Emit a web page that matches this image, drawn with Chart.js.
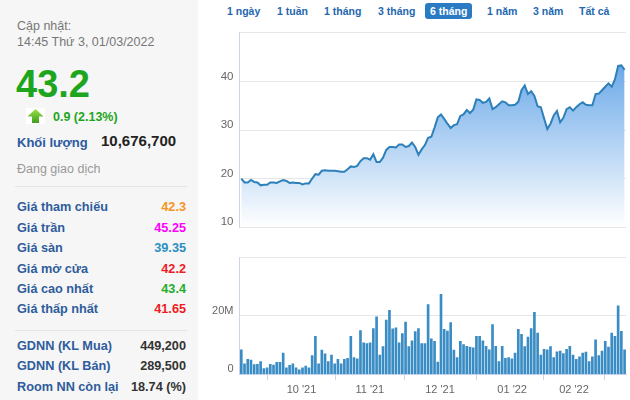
<!DOCTYPE html>
<html>
<head>
<meta charset="utf-8">
<script src="https://cdn.jsdelivr.net/npm/chart.js@4/dist/chart.umd.min.js"></script>
<style>
  body { margin: 0; width: 630px; height: 400px; position: relative; overflow: hidden; background: #fff; font-family: "Liberation Sans", Arial, sans-serif; }
  #painel { position: absolute; left: 0; top: 0; width: 198px; height: 400px; background: #f6f6f6; }
  .t { position: absolute; white-space: nowrap; height: 16px; line-height: 16px; }
  .lbl { left: 17px; font-size: 12.7px; font-weight: bold; color: #2f5c9c; }
  .val { right: 12px; font-size: 12.7px; font-weight: bold; text-align: right; }
  .sep { position: absolute; left: 15px; width: 172px; height: 1px; background: #e4e4e4; }
  .aba { position: absolute; top: 3px; height: 16px; line-height: 16px; font-size: 10.5px; font-weight: bold; color: #2467b0; white-space: nowrap; }
  .ativa { background: #2b7bc4; color: #fff; border-radius: 3px; padding: 0 5px; }
  canvas { position: absolute; }
</style>
</head>
<body>
<div id="painel">
  <div class="t" style="left:17px;top:18px;font-size:12.5px;color:#777;">Cập nhật:</div>
  <div class="t" style="left:17px;top:33.5px;font-size:12.5px;color:#777;">14:45 Thứ 3, 01/03/2022</div>
  <div class="t" style="left:16px;top:63.8px;height:40px;line-height:40px;font-size:38px;font-weight:bold;color:#1ea51e;">43.2</div>
  <svg style="position:absolute;left:26px;top:108px;" width="19" height="16">
    <defs><linearGradient id="ga" x1="0" y1="0" x2="0" y2="1"><stop offset="0" stop-color="#9be04a"/><stop offset="1" stop-color="#3f9e1c"/></linearGradient></defs>
    <rect width="19" height="16" fill="#fff"/>
    <polygon points="1.5,8.5 9.5,1 17.5,8.5 13,8.5 13,15 6,15 6,8.5" fill="url(#ga)"/>
  </svg>
  <div class="t" style="left:53px;top:109px;font-size:12.5px;font-weight:bold;color:#1ea51e;">0.9 (2.13%)</div>
  <div class="t" style="left:17px;top:135px;font-size:13px;font-weight:bold;color:#2c5aa0;">Khối lượng</div>
  <div class="t" style="left:101px;top:133px;font-size:15px;font-weight:bold;color:#222;">10,676,700</div>
  <div class="t" style="left:17px;top:161px;font-size:12.5px;color:#999;">Đang giao dịch</div>
  <div class="sep" style="top:186px;"></div>
  <div id="linhas"></div>
  <div class="sep" style="top:330px;"></div>
</div>

<div class="aba" style="left:227px;">1 ngày</div>
<div class="aba" style="left:277px;">1 tuần</div>
<div class="aba" style="left:324px;">1 tháng</div>
<div class="aba" style="left:378px;">3 tháng</div>
<div class="aba ativa" style="left:425px;">6 tháng</div>
<div class="aba" style="left:487px;">1 năm</div>
<div class="aba" style="left:533px;">3 năm</div>
<div class="aba" style="left:579px;">Tất cả</div>

<canvas id="graficoPreco" style="left:200px;top:20px;" width="430" height="220"></canvas>
<canvas id="graficoVolume" style="left:200px;top:245px;" width="430" height="155"></canvas>

<script>
// preço de fechamento por sessão (mil VND)
const precos = [
  20.0, 19.2, 19.2, 19.7, 19.3, 19.2, 18.6, 18.7, 18.7, 19.2,
  19.2, 19.1, 19.4, 19.7, 19.5, 19.1, 19.2, 19.1, 19.1, 18.8,
  19.0, 19.0, 20.0, 20.9, 20.8, 21.6, 21.7, 21.6, 21.6, 21.6,
  21.5, 21.4, 21.4, 21.9, 22.5, 22.4, 22.6, 23.6, 24.2, 24.2,
  23.9, 25.0, 23.4, 23.4, 24.3, 25.9, 26.5, 26.5, 26.4, 27.0,
  27.0, 26.5, 26.7, 27.4, 26.5, 24.9, 26.0, 26.9, 28.4, 28.6,
  30.5, 32.6, 33.2, 32.3, 31.3, 30.4, 31.0, 31.2, 32.9, 33.2,
  34.1, 33.5, 34.2, 36.3, 36.2, 35.6, 35.8, 36.5, 34.3, 34.7,
  35.3, 35.9, 35.7, 35.1, 35.1, 35.2, 35.8, 38.2, 39.2, 37.4,
  38.0, 37.0, 34.9, 34.7, 32.4, 30.2, 31.3, 33.0, 33.9, 31.6,
  32.5, 34.3, 34.7, 34.0, 34.7, 35.3, 35.7, 35.2, 35.1, 35.1,
  37.4, 37.5, 38.2, 38.9, 39.6, 38.9, 40.4, 43.2, 43.3, 42.4
];

// volume por sessão (milhões)
const volumes = [
  8.4, 3.6, 5.1, 4.9, 3.3, 3.4, 4.4, 2.0, 2.2, 3.4,
  3.2, 4.1, 4.1, 7.3, 2.2, 3.1, 3.6, 2.2, 1.5, 2.2,
  2.8, 2.2, 6.4, 13.0, 3.6, 8.3, 7.0, 4.4, 6.6, 3.6,
  5.1, 3.6, 5.1, 5.5, 13.0, 5.7, 5.3, 15.0, 10.8, 10.5,
  10.8, 15.7, 19.7, 6.6, 9.5, 18.6, 21.9, 15.6, 15.9, 10.8,
  14.0, 17.9, 9.5, 11.5, 14.6, 15.7, 10.5, 10.5, 23.9, 12.2,
  11.3, 4.2, 27.4, 15.4, 14.8, 17.7, 8.3, 5.7, 11.3, 10.2,
  9.6, 9.3, 9.1, 13.0, 13.0, 11.5, 9.6, 8.4, 17.0, 9.6,
  4.4, 9.6, 5.5, 5.7, 5.3, 7.3, 15.4, 13.7, 9.5, 12.8,
  15.7, 21.2, 14.1, 6.6, 8.6, 8.4, 9.5, 5.7, 7.7, 8.0,
  7.1, 8.6, 9.6, 6.6, 5.1, 6.0, 7.3, 7.6, 4.4, 6.0,
  11.8, 6.4, 8.0, 11.3, 9.3, 14.1, 13.0, 23.5, 14.7, 8.4
];

const mesesLabels = ["10 '21", "11 '21", "12 '21", "01 '22", "02 '22"];
const mesesPos = [18.7, 39.9, 61.7, 84.1, 103.3];

const precoTicks = [10, 20, 30, 40];
const volumeTicks = [0, 20];

const infoLabels = ['Giá tham chiếu', 'Giá trần', 'Giá sàn', 'Giá mở cửa', 'Giá cao nhất', 'Giá thấp nhất', 'GDNN (KL Mua)', 'GDNN (KL Bán)', 'Room NN còn lại'];
const infoValores = ['42.3', '45.25', '39.35', '42.2', '43.4', '41.65', '449,200', '289,500', '18.74 (%)'];
const infoCores = ['#f7941d', '#f0f', '#2a8fc1', '#ee1c25', '#1fae2a', '#ee1c25', '#333', '#333', '#333'];
const infoCentros = [206.7, 227.7, 248.3, 269, 289.3, 309.3, 345.7, 365.7, 386.7];

let html = '';
infoLabels.forEach((l, i) => {
    const top = infoCentros[i] - 8;
    html += `<div class="t lbl" style="top:${top}px;">${l}</div>`;
    html += `<div class="t val" style="top:${top}px;color:${infoCores[i]};">${infoValores[i]}</div>`;
});
document.getElementById('linhas').innerHTML = html;

const fonte = { family: '"Liberation Sans", Arial, sans-serif', size: 11 };
const xMin = -0.56, xMax = 119.44;

new Chart(document.getElementById('graficoPreco').getContext('2d'), {
    type: 'line',
    data: {
        datasets: [{
            data: precos.map((v, i) => ({ x: i, y: v })),
            borderColor: '#2e80ba',
            borderWidth: 2,
            pointRadius: 0,
            tension: 0,
            fill: 'start',
            backgroundColor: (ctx) => {
                const area = ctx.chart.chartArea;
                if (!area) return 'rgba(80,155,228,0.6)';
                const g = ctx.chart.ctx.createLinearGradient(0, area.top, 0, area.bottom);
                g.addColorStop(0, 'rgba(78,152,228,1)');
                g.addColorStop(1, 'rgba(255,255,255,1)');
                return g;
            }
        }]
    },
    options: {
        responsive: false,
        animation: false,
        layout: { padding: { top: 10, bottom: 4.3, right: 4, left: 0 } },
        plugins: { legend: { display: false }, tooltip: { enabled: false } },
        scales: {
            x: { type: 'linear', min: xMin, max: xMax, display: false },
            y: {
                min: 10, max: 50,
                afterFit: (s) => { s.width = 39.5; },
                afterBuildTicks: (s) => { s.ticks = precoTicks.concat([50]).map(v => ({ value: v })); },
                ticks: {
                    font: { ...fonte, size: 11.5 }, color: '#666', padding: 6, labelOffset: -5,
                    callback: (v) => precoTicks.includes(v) ? String(v) : ''
                },
                grid: { color: '#e6e6e6', drawTicks: false },
                border: { color: '#ccd6eb' }
            }
        }
    }
});

new Chart(document.getElementById('graficoVolume').getContext('2d'), {
    type: 'bar',
    data: {
        datasets: [{
            data: volumes.map((v, i) => ({ x: i, y: v })),
            backgroundColor: '#3a8cc4',
            barThickness: 2
        }]
    },
    options: {
        responsive: false,
        animation: false,
        layout: { padding: { top: 8, bottom: 0, right: 4, left: 0 } },
        plugins: { legend: { display: false }, tooltip: { enabled: false } },
        scales: {
            x: {
                type: 'linear', min: xMin, max: xMax, offset: false,
                afterFit: (s) => { s.height = 25.7; },
                afterBuildTicks: (s) => { s.ticks = mesesPos.map(v => ({ value: v })); },
                ticks: {
                    font: fonte, color: '#666', padding: 3, maxRotation: 0, autoSkip: false,
                    callback: (v, i) => mesesLabels[i]
                },
                grid: { drawOnChartArea: false, tickLength: 6, color: '#ccd6eb' },
                border: { color: '#ccd6eb' }
            },
            y: {
                min: 0, max: 40,
                afterFit: (s) => { s.width = 39.5; },
                afterBuildTicks: (s) => { s.ticks = volumeTicks.concat([40]).map(v => ({ value: v })); },
                ticks: {
                    font: fonte, color: '#666', padding: 6, labelOffset: -5,
                    callback: (v) => v === 0 ? '0' : (volumeTicks.includes(v) ? v + 'M' : '')
                },
                grid: { color: '#e6e6e6', drawTicks: false },
                border: { color: '#ccd6eb' }
            }
        }
    }
});
</script>
</body>
</html>
